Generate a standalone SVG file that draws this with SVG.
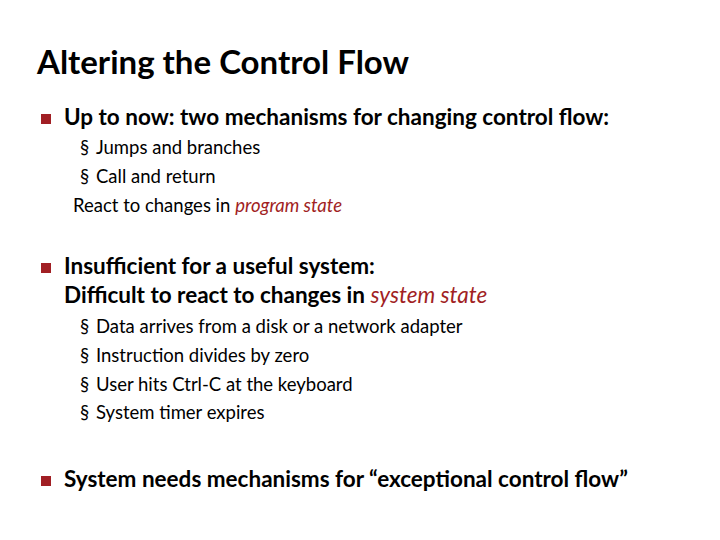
<svg xmlns="http://www.w3.org/2000/svg" width="720" height="540" viewBox="0 0 720 540">
<style>
text{font-family:Lato,"Open Sans",sans-serif;fill:#000}
.t{font-size:33px;font-weight:bold}
.b{font-size:22.5px;font-weight:bold}
.s{font-size:18.5px}
.r{fill:#a11f24;font-style:italic}
.sq{fill:#a11f24}
</style>
<rect width="720" height="540" fill="#fff"/>
<text class="t" x="37" y="74">Altering the Control Flow</text>
<g id="b1">
<rect class="sq" x="41" y="114" width="10" height="10"/>
<text class="b" x="64" y="125">Up to now: two mechanisms for changing control flow:</text>
<text class="s" x="80" y="154">§</text><text class="s" x="96" y="154">Jumps and branches</text>
<text class="s" x="80" y="183">§</text><text class="s" x="96" y="183">Call and return</text>
<text class="s" x="73" y="212">React to changes in <tspan class="r">program state</tspan></text>
</g>
<g id="b2">
<rect class="sq" x="41" y="263" width="10" height="10"/>
<text class="b" x="64" y="274">Insufficient  for a useful system:</text>
<text class="b" x="64" y="303">Difficult to react to changes in <tspan class="r" font-weight="normal">system state</tspan></text>
<text class="s" x="80" y="333">§</text><text class="s" x="96" y="333">Data arrives from a disk or a network adapter</text>
<text class="s" x="80" y="362">§</text><text class="s" x="96" y="362">Instruction divides by zero</text>
<text class="s" x="80" y="391">§</text><text class="s" x="96" y="391">User hits Ctrl-C at the keyboard</text>
<text class="s" x="80" y="419">§</text><text class="s" x="96" y="419">System timer expires</text>
</g>
<g id="b3">
<rect class="sq" x="41" y="476" width="10" height="10"/>
<text class="b" x="64" y="487">System needs mechanisms for “exceptional control flow”</text>
</g>
</svg>
